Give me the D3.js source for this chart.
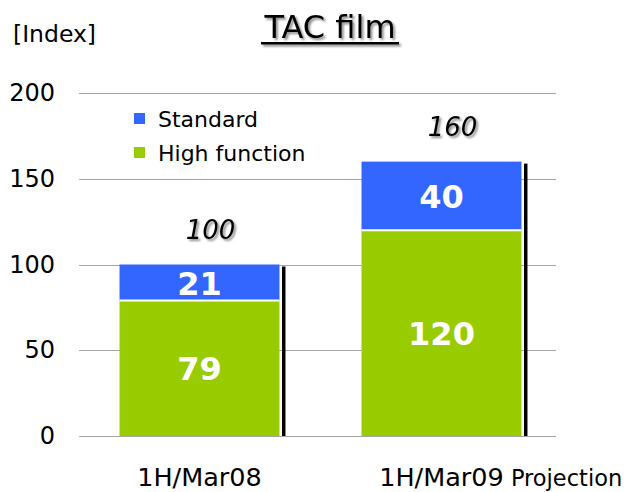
<!DOCTYPE html>
<html>
<head>
<meta charset="utf-8">
<script src="https://cdn.jsdelivr.net/npm/d3@7"></script>
<style>
  html, body { margin: 0; padding: 0; background: #fff; }
  text { font-family: "DejaVu Sans", sans-serif; }
</style>
</head>
<body>
<svg id="chart" width="635" height="492"></svg>
<script>
// Chart data
const categories = ["1H/Mar08", "1H/Mar09"];
const categorySuffix = ["", " Projection"];
const highFunction = [79, 120];
const standard = [21, 40];
const totals = [100, 160];
const yTicks = [0, 50, 100, 150, 200];
const seriesNames = ["Standard", "High function"];
const seriesColors = ["#3366ff", "#99cc00"];

const svg = d3.select("#chart");
const plot = { left: 79, right: 556, top: 93, bottom: 436 };

// soft drop shadow used by the title and the total labels
const defs = svg.append("defs");
const f = defs.append("filter").attr("id", "shadow")
  .attr("x", "-10%").attr("y", "-20%").attr("width", "130%").attr("height", "150%");
f.append("feDropShadow").attr("dx", 2).attr("dy", 2).attr("stdDeviation", 1)
  .attr("flood-color", "#000").attr("flood-opacity", 0.45);

const x = d3.scaleBand().domain(categories).range([78, 563])
  .paddingInner(0.339).paddingOuter(0.1716);
const y = d3.scaleLinear().domain([0, 200]).range([plot.bottom, plot.top]);

// gridlines
svg.append("g").selectAll("line").data(yTicks).join("line")
  .attr("x1", plot.left).attr("x2", plot.right)
  .attr("y1", d => Math.round(y(d)) + 0.5).attr("y2", d => Math.round(y(d)) + 0.5)
  .attr("stroke", "#a6a6a6").attr("stroke-width", 1);

// y axis labels
const yAxis = d3.axisLeft(y).tickValues(yTicks).tickSize(0).tickPadding(0);
const yg = svg.append("g").attr("transform", "translate(55,0)").call(yAxis);
yg.select(".domain").remove();
yg.selectAll("text").attr("font-size", 24).attr("fill", "#000")
  .attr("font-family", "'DejaVu Sans', sans-serif");

svg.append("text").attr("x", 13).attr("y", 42).attr("font-size", 23.5).text("[Index]");

// title with underline
const title = svg.append("g").attr("filter", "url(#shadow)");
title.append("text").attr("x", 330).attr("y", 38).attr("text-anchor", "middle")
  .attr("font-size", 32).attr("fill", "#000").text("TAC film");
title.append("rect").attr("x", 261).attr("y", 42).attr("width", 138).attr("height", 2.5).attr("fill", "#000");

// stacked bars
const stackData = categories.map((c, i) => ({ cat: c, high: highFunction[i], std: standard[i] }));
const stacked = d3.stack().keys(["high", "std"])(stackData);
const colorOf = { high: seriesColors[1], std: seriesColors[0] };

// dark edge on the right of each bar
svg.append("g").selectAll("rect").data(stackData).join("rect")
  .attr("x", d => x(d.cat) + x.bandwidth() + 2.5)
  .attr("y", d => y(d.high + d.std) + 2)
  .attr("width", 3.5)
  .attr("height", d => y(0) - y(d.high + d.std) - 2)
  .attr("fill", "#000");

svg.append("g").selectAll("g").data(stacked).join("g")
  .attr("fill", s => colorOf[s.key])
  .selectAll("rect").data(s => s).join("rect")
  .attr("x", d => x(d.data.cat))
  .attr("y", d => y(d[1]))
  .attr("width", x.bandwidth())
  .attr("height", d => y(d[0]) - y(d[1]));

// white separator between segments
svg.append("g").selectAll("line").data(stackData).join("line")
  .attr("x1", d => x(d.cat)).attr("x2", d => x(d.cat) + x.bandwidth())
  .attr("y1", d => y(d.high)).attr("y2", d => y(d.high))
  .attr("stroke", "#fff").attr("stroke-width", 2);

// segment value labels
stacked.forEach(s => {
  svg.append("g").selectAll("text").data(s).join("text")
    .attr("x", d => x(d.data.cat) + x.bandwidth() / 2)
    .attr("y", d => (y(d[0]) + y(d[1])) / 2 + 12)
    .attr("text-anchor", "middle")
    .attr("font-size", 32).attr("font-weight", "bold").attr("fill", "#fff")
    .text(d => d[1] - d[0]);
});

// totals above bars
svg.append("g").attr("filter", "url(#shadow)").selectAll("text").data(stackData).join("text")
  .attr("x", d => x(d.cat) + x.bandwidth() / 2 + 11)
  .attr("y", (d, i) => y(totals[i]) - 26)
  .attr("text-anchor", "middle").attr("font-size", 26).attr("font-style", "italic")
  .attr("fill", "#000").text((d, i) => totals[i]);

// category labels
svg.append("g").selectAll("text").data(categories).join("text")
  .attr("y", 486).attr("font-size", 25.5)
  .each(function (d, i) {
    const t = d3.select(this);
    t.append("tspan").text(d);
    const w = this.getComputedTextLength();
    t.append("tspan").attr("font-size", 22.5).text(categorySuffix[i]);
    t.attr("x", x(d) + x.bandwidth() / 2 - w / 2);
  });

// legend
const legend = svg.append("g").selectAll("g").data(seriesNames).join("g")
  .attr("transform", (d, i) => `translate(134,${113 + i * 34})`);
legend.append("rect").attr("width", 11).attr("height", 11).attr("fill", (d, i) => seriesColors[i]);
legend.append("text").attr("x", 24).attr("y", 14).attr("font-size", 22).text(d => d);
</script>
</body>
</html>
